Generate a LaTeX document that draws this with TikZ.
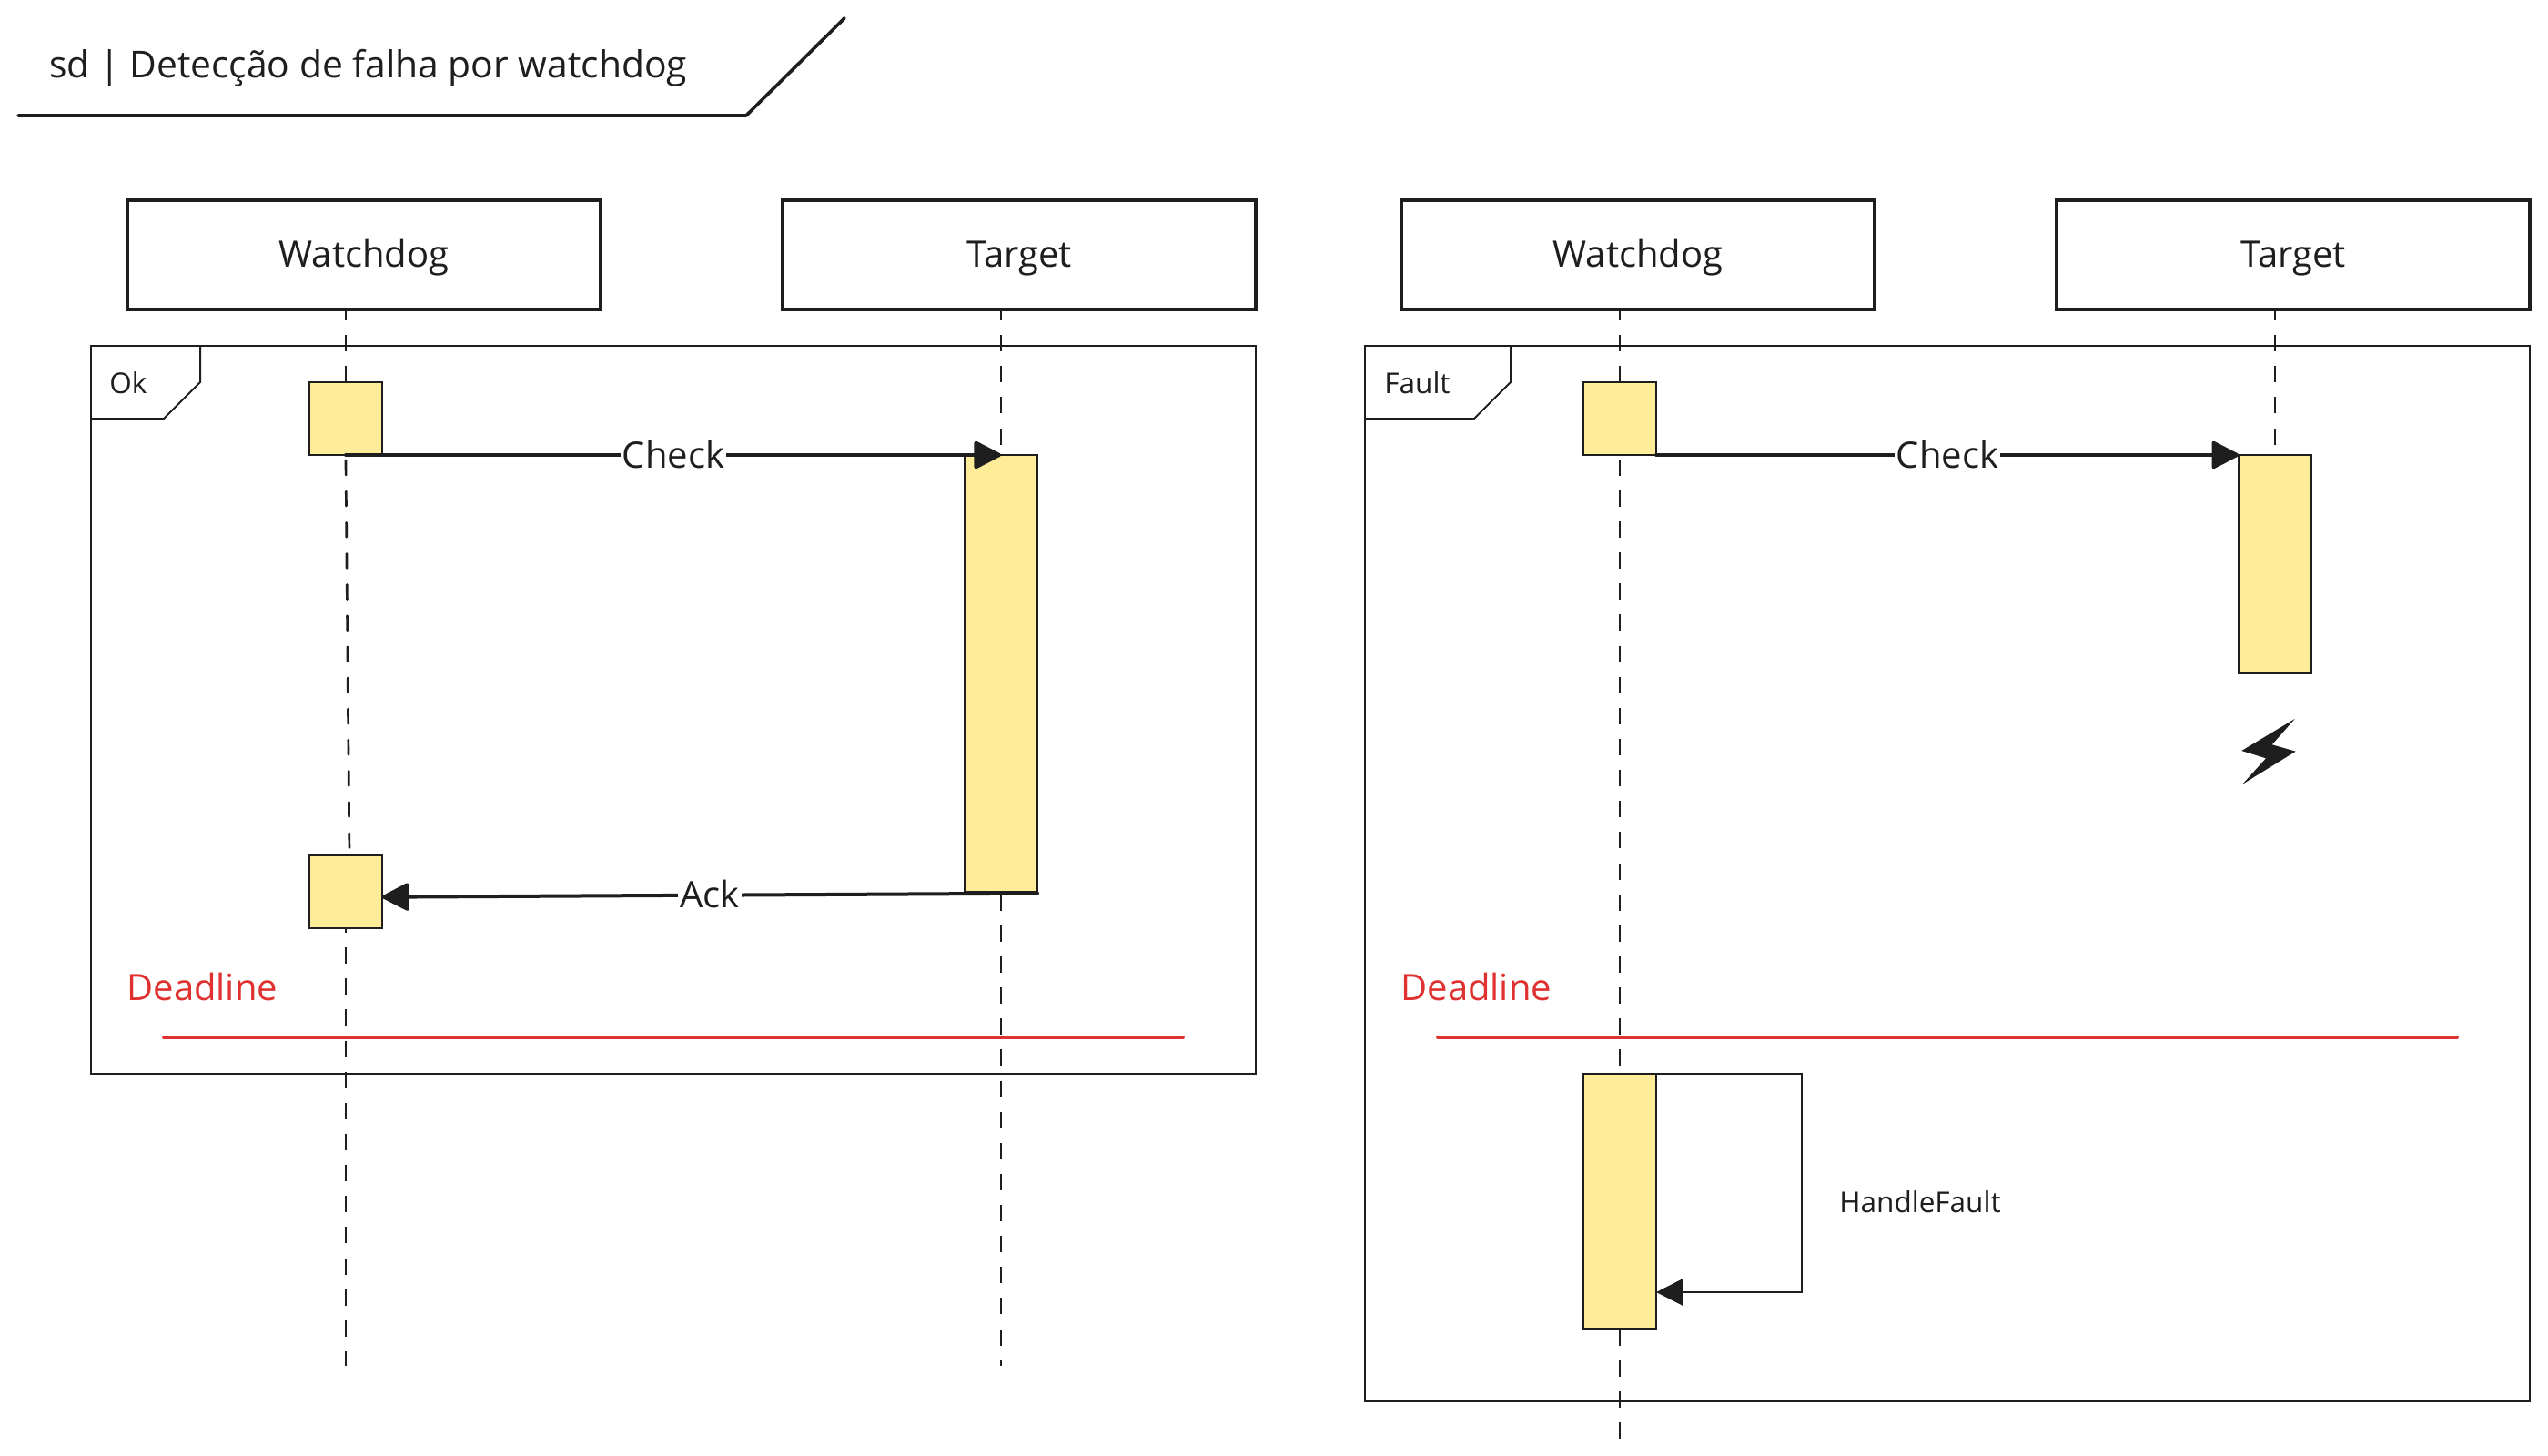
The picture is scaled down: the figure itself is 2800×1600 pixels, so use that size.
\documentclass[tikz,border=0pt]{standalone}
\usepackage{fontspec}
\setmainfont{Open Sans}
\usetikzlibrary{arrows.meta}
\definecolor{ink}{HTML}{1E1E1E}
\definecolor{actfill}{HTML}{FFEC99}
\definecolor{alarm}{HTML}{E03131}
\newcommand{\txtbig}{\fontsize{20pt}{24pt}\selectfont}
\newcommand{\txttitle}{\fontsize{20.4pt}{24pt}\selectfont}
\newcommand{\txtsmall}{\fontsize{15.75pt}{19pt}\selectfont}
\tikzset{
  x=0.5pt,y=-0.5pt,
  actor/.style={draw=ink,line width=2pt,minimum width=260pt,minimum height=60pt,inner sep=0pt,outer sep=0pt,text=ink,font=\txtbig,text height=16pt,text depth=3pt},
  lifeline/.style={draw=ink,line width=1.35pt,dash pattern=on 9pt off 8.07pt},
  frameline/.style={draw=ink,line width=1pt,line join=miter},
  bar/.style={draw=ink,fill=actfill,line width=1pt,inner sep=0pt,outer sep=0pt,minimum width=40pt},
  msg/.style={draw=ink,line width=2pt,-{Triangle[length=16pt,width=16pt,round]},line cap=round},
  selfmsg/.style={draw=ink,line width=1pt,-{Triangle[length=14.5pt,width=14.5pt]}},
  msglabel/.style={fill=white,inner sep=1pt,text=ink,font=\txtbig,text height=16pt,text depth=2pt},
  small/.style={inner sep=0pt,text=ink,font=\txtsmall,anchor=base west},
  deadtxt/.style={inner sep=0pt,text=alarm,font=\txtbig,anchor=base west},
  deadline/.style={draw=alarm,line width=1.9pt,line cap=round},
}
\begin{document}
\begin{tikzpicture}
\useasboundingbox (0,0) rectangle (2800,1600);
\fill[white] (0,0) rectangle (2800,1600);
% title
\coordinate (ta) at (20,127);
\coordinate (tb) at (820,127);
\coordinate (tc) at (928,20);
\draw[draw=ink,line width=1.8pt,line cap=round,line join=round] (ta) -- (tb) -- (tc);
\node[anchor=base west,inner sep=0pt,text=ink,font=\txttitle] (title) at (54,86) {sd | Detecção de falha por watchdog};
% frames
\coordinate (f1a) at (100,380); \coordinate (f1b) at (1380,1180);
\coordinate (f2a) at (1500,380); \coordinate (f2b) at (2780,1540);
\draw[frameline] (f1a) rectangle (f1b);
\draw[frameline] (f2a) rectangle (f2b);
\draw[frameline] (220,380) -- (220,420) -- (180,460) -- (100,460);
\draw[frameline] (1660,380) -- (1660,420) -- (1620,460) -- (1500,460);
\node[small] (okl) at (120,432) {Ok};
\node[small] (fl) at (1521,432) {Fault};
% actors
\node[actor] (w1) at (400,280) {Watchdog};
\node[actor] (t1) at (1120,280) {Target};
\node[actor] (w2) at (1800,280) {Watchdog};
\node[actor] (t2) at (2520,280) {Target};
% lifelines
\coordinate (l1a) at (380,334); \coordinate (l1b) at (380,500);
\coordinate (l1c) at (380,506); \coordinate (l1d) at (384,940);
\coordinate (l1e) at (380,1007); \coordinate (l1f) at (380,1501);
\coordinate (l2a) at (1100,334); \coordinate (l2b) at (1100,1501);
\coordinate (l3a) at (1780,334); \coordinate (l3b) at (1780,1581);
\coordinate (l4a) at (2500,334); \coordinate (l4b) at (2500,500);
\begin{scope}
\clip (0,342) rectangle (2800,1600);
\draw[lifeline] (l1a) -- (l1b);
\draw[lifeline,line cap=round,dash pattern=on 8pt off 9.07pt] (l1c) -- (l1d);
\draw[lifeline] (l1e) -- (l1f);
\draw[lifeline] (l2a) -- (l2b);
\draw[lifeline] (l3a) -- (l3b);
\draw[lifeline] (l4a) -- (l4b);
\end{scope}
% activations
\node[bar,minimum height=40pt,anchor=north] (a1) at (380,420) {};
\node[bar,minimum height=240pt,anchor=north] (a2) at (1100,500) {};
\node[bar,minimum height=40pt,anchor=north] (a3) at (380,940) {};
\node[bar,minimum height=40pt,anchor=north] (b1) at (1780,420) {};
\node[bar,minimum height=120pt,anchor=north] (b2) at (2500,500) {};
\node[bar,minimum height=140pt,anchor=north] (b3) at (1780,1180) {};
% messages
\draw[msg] (a1.south) -- node[msglabel,pos=.5] (m1) {Check} (a2.north);
\coordinate (c3) at (1140,981.7); \coordinate (c4) at (420,985.7);
\draw[msg] (c3) -- node[msglabel,pos=.5] (m2) {Ack} (c4);
\draw[msg] (b1.south east) -- node[msglabel,pos=.5] (m3) {Check} (b2.north west);
\coordinate (s1) at (1980,1180); \coordinate (s2) at (1980,1420); \coordinate (s3) at (1820,1420);
\draw[selfmsg] (b3.north east) -- (s1) -- (s2) -- (s3);
\node[small] (hf) at (2021,1332) {HandleFault};
% deadlines
\node[deadtxt] (d1) at (139,1099) {Deadline};
\node[deadtxt] (d2) at (1539,1099) {Deadline};
\coordinate (r1) at (180,1140); \coordinate (r2) at (1300,1140);
\coordinate (r3) at (1580,1140); \coordinate (r4) at (2700,1140);
\draw[deadline] (r1) -- (r2);
\draw[deadline] (r3) -- (r4);
% lightning
\fill[ink] (2521.7,790) -- (2463.3,825) -- (2490,833.3) -- (2464.3,861.7) -- (2522.7,825.7) -- (2496.7,818.3) -- cycle;
\end{tikzpicture}
\end{document}
